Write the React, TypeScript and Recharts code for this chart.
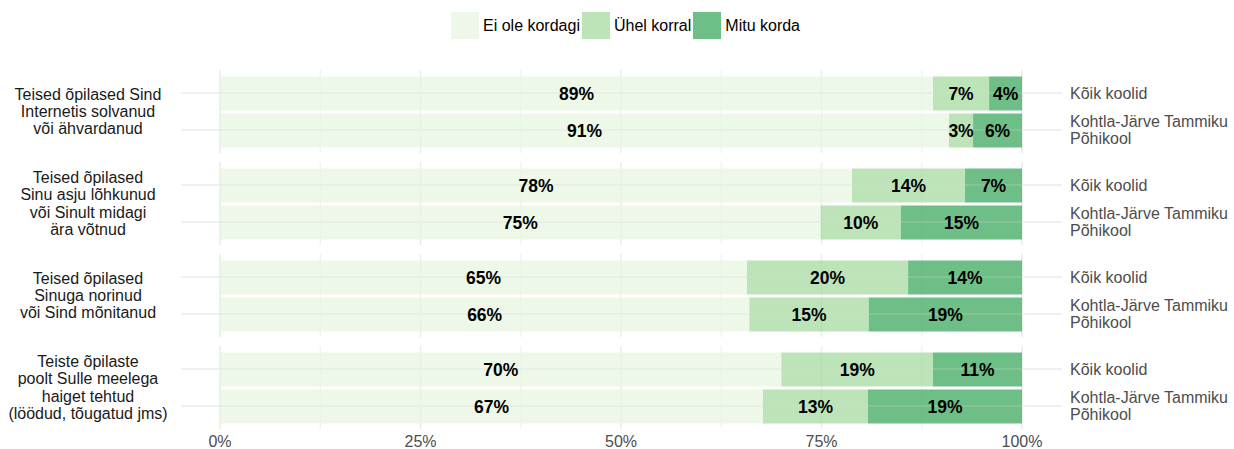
import React from 'react'
import { BarChart, Bar, XAxis, YAxis, CartesianGrid, LabelList, ReferenceLine } from 'recharts'

// question texts (left strip), one line per entry
const questions = [
  ['Teised õpilased Sind', 'Internetis solvanud', 'või ähvardanud'],
  ['Teised õpilased', 'Sinu asju lõhkunud', 'või Sinult midagi', 'ära võtnud'],
  ['Teised õpilased', 'Sinuga norinud', 'või Sind mõnitanud'],
  ['Teiste õpilaste', 'poolt Sulle meelega', 'haiget tehtud', '(löödud, tõugatud jms)'],
]
const schools = ['Kõik koolid', 'Kohtla-Järve Tammiku\nPõhikool']

// shares (%) per question: [Kõik koolid, Tammiku]
const eiOle = [[88.9, 90.9], [78.8, 74.9], [65.7, 66.0], [70.0, 67.7]]
const yhel = [[7.0, 3.0], [14.1, 10.0], [20.1, 14.9], [18.9, 13.1]]
const mitu = [[4.1, 6.1], [7.1, 15.1], [14.2, 19.1], [11.1, 19.2]]
// printed labels
const eiOleLbl = [[89, 91], [78, 75], [65, 66], [70, 67]]
const yhelLbl = [[7, 3], [14, 10], [20, 15], [19, 13]]
const mituLbl = [[4, 6], [7, 15], [14, 19], [11, 19]]

const majorTicks = [0, 25, 50, 75, 100]
const minorTicks = [12.5, 37.5, 62.5, 87.5]

const series = [
  { key: 'ei', name: 'Ei ole kordagi', color: '#e5f5e0' },
  { key: 'yh', name: 'Ühel korral', color: '#a1d99b' },
  { key: 'mi', name: 'Mitu korda', color: '#31a354' },
]
const ALPHA = 0.7
const FONT = '"Liberation Sans", Arial, sans-serif'
const GRID = '#ebebeb'

const RightTick = (props: any) => {
  const { x, y, payload } = props
  const lines = String(payload.value).split('\n')
  return (
    <text x={x} y={y} fill="#4d4d4d" fontSize={16} textAnchor="start">
      {lines.map((l, i) => (
        <tspan key={i} x={x} dy={i === 0 ? -(lines.length - 1) * 8.6 + 5.6 : 17.2}>{l}</tspan>
      ))}
    </text>
  )
}

const NoTick = () => <g />

function Panel({ qi, last }: { qi: number; last: boolean }) {
  const data = schools.map((s, i) => ({
    school: s,
    ei: eiOle[qi][i], yh: yhel[qi][i], mi: mitu[qi][i],
    eiL: eiOleLbl[qi][i], yhL: yhelLbl[qi][i], miL: mituLbl[qi][i],
  }))
  return (
    <BarChart width={1234} height={last ? 103 : 83} data={data} layout="vertical"
      margin={{ top: 0, right: 0, bottom: 0, left: 0 }} barSize={34}>
      <CartesianGrid xAxisId="minor" yAxisId="l" horizontal={false} stroke={GRID} strokeWidth={0.8} />
      <CartesianGrid xAxisId="major" yAxisId="l" horizontal={false} stroke={GRID} strokeWidth={1.4} />
      <XAxis xAxisId="minor" type="number" domain={[0, 100]} ticks={minorTicks} allowDataOverflow hide />
      <XAxis xAxisId="major" type="number" domain={[0, 100]} ticks={majorTicks} allowDataOverflow
        hide={!last} height={20} axisLine={false} tickLine={false} tickSize={0} tickMargin={7}
        tickFormatter={(v: number) => `${v}%`} tick={{ fill: '#4d4d4d', fontSize: 16 }} interval={0} />
      <YAxis yAxisId="l" type="category" dataKey="school" width={220} tickSize={39}
        tick={NoTick} axisLine={false} tickLine={{ stroke: GRID, strokeWidth: 1.3 }}
        padding={{ top: 4.5, bottom: 4.5 }} />
      <YAxis yAxisId="r" orientation="right" type="category" dataKey="school" width={212} tickSize={40}
        tickMargin={8} tick={RightTick} axisLine={false} tickLine={{ stroke: GRID, strokeWidth: 1.3 }}
        padding={{ top: 4.5, bottom: 4.5 }} />
      {/* horizontal grid, seen through the translucent bars */}
      {schools.map(s => (
        <ReferenceLine key={s} xAxisId="major" yAxisId="l" y={s} stroke="#d8d8d8" strokeOpacity={1 - ALPHA} strokeWidth={1.3} />
      ))}
      {series.map(s => (
        <Bar key={s.key} xAxisId="major" yAxisId="l" dataKey={s.key} stackId="s" fill={s.color}
          fillOpacity={ALPHA} isAnimationActive={false}>
          <LabelList dataKey={`${s.key}L`} position="center" fill="#000" fontSize={17.5} fontWeight="bold"
            formatter={(v: any) => `${v}%`} />
        </Bar>
      ))}
    </BarChart>
  )
}

export default function App() {
  const tops = [70, 162, 254, 346]
  return (
    <div style={{ position: 'absolute', left: 0, top: 0, width: 1234, height: 449, background: '#fff', fontFamily: FONT, overflow: 'hidden' }}>
      {/* legend */}
      <div style={{ position: 'absolute', left: 451, top: 12, height: 27, display: 'flex', alignItems: 'center', fontSize: 16, color: '#000' }}>
        {series.map(s => (
          <div key={s.key} style={{ display: 'flex', alignItems: 'center', marginRight: 2 }}>
            <div style={{ width: 28, height: 27, background: s.color, opacity: ALPHA }} />
            <span style={{ marginLeft: 4 }}>{s.name}</span>
          </div>
        ))}
      </div>
      {questions.map((q, qi) => (
        <div key={qi}>
          <div style={{ position: 'absolute', left: 0, top: tops[qi], width: 176, height: 83, display: 'flex', flexDirection: 'column', justifyContent: 'center', alignItems: 'center', fontSize: 16, lineHeight: '17.3px', color: '#1a1a1a', textAlign: 'center' }}>
            {q.map((l, i) => <div key={i}>{l}</div>)}
          </div>
          <div style={{ position: 'absolute', left: 0, top: tops[qi] }}>
            <Panel qi={qi} last={qi === questions.length - 1} />
          </div>
        </div>
      ))}
    </div>
  )
}
